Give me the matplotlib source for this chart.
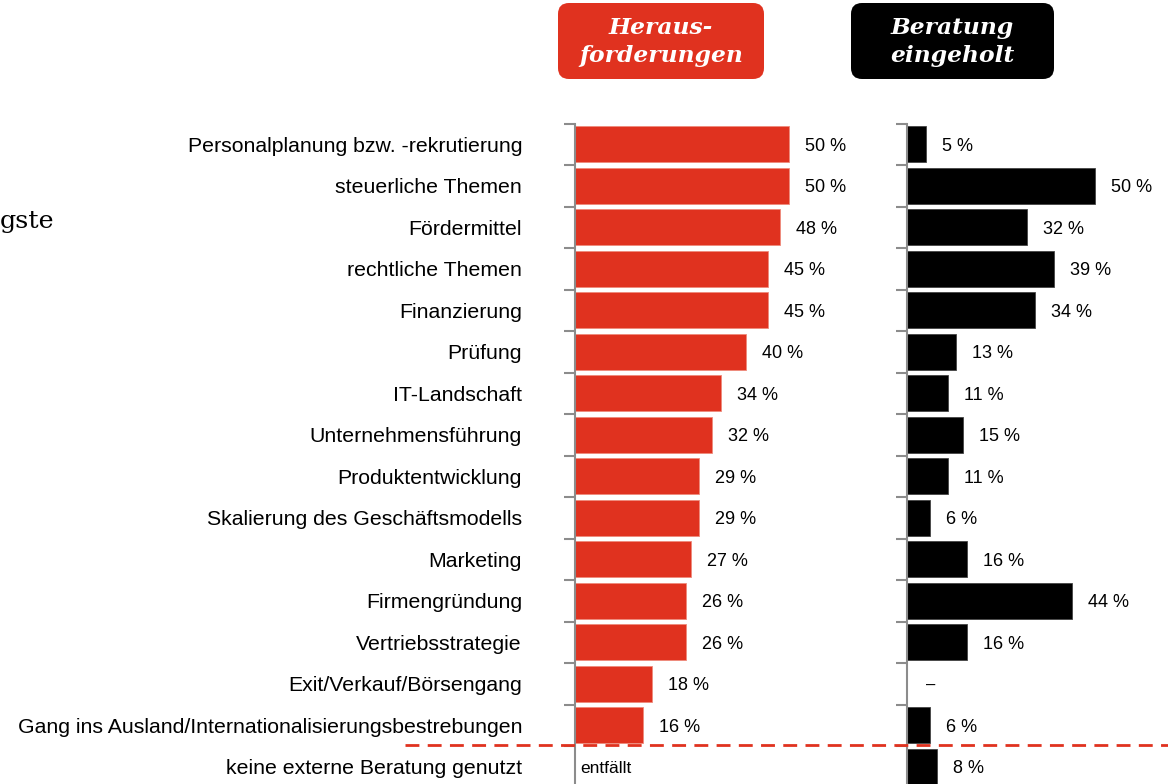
import matplotlib.pyplot as plt
from matplotlib.patches import FancyBboxPatch

# data
categories = [
    'Personalplanung bzw. -rekrutierung',
    'steuerliche Themen',
    'Fördermittel',
    'rechtliche Themen',
    'Finanzierung',
    'Prüfung',
    'IT-Landschaft',
    'Unternehmensführung',
    'Produktentwicklung',
    'Skalierung des Geschäftsmodells',
    'Marketing',
    'Firmengründung',
    'Vertriebsstrategie',
    'Exit/Verkauf/Börsengang',
    'Gang ins Ausland/Internationalisierungsbestrebungen',
    'keine externe Beratung genutzt',
]
challenges = [50, 50, 48, 45, 45, 40, 34, 32, 29, 29, 27, 26, 26, 18, 16, None]
advice = [5, 50, 32, 39, 34, 13, 11, 15, 11, 6, 16, 44, 16, None, 6, 8]
header_left = 'Heraus-\nforderungen'
header_right = 'Beratung\neingeholt'

RED = '#e0321f'
W, H = 1168, 784
fig = plt.figure(figsize=(W / 100, H / 100), dpi=100)

n = len(categories)
top = 1 - 123.5 / H
bottom = 1 - 787.5 / H
ax1 = fig.add_axes([575 / W, bottom, 300 / W, top - bottom])
ax2 = fig.add_axes([907 / W, bottom, (W - 907) / W, top - bottom])
ax1.set_xlim(0, 300 / 4.28)
ax2.set_xlim(0, (W - 907) / 3.76)

ys = list(range(n))
for ax, vals, col, edge in [(ax1, challenges, RED, '#ee8a7c'), (ax2, advice, 'black', '#444444')]:
    ax.set_ylim(n - 0.5, -0.5)
    for s in ['top', 'right', 'bottom']:
        ax.spines[s].set_visible(False)
    ax.spines['left'].set_color('#8c8c8c')
    ax.spines['left'].set_linewidth(1.5)
    ax.set_xticks([])
    ax.set_yticks([i - 0.5 for i in range(n + 1)])
    ax.set_yticklabels([])
    ax.tick_params(axis='y', length=8, width=1.5, color='#8c8c8c')
    for y, v in zip(ys, vals):
        if v is None:
            continue
        ax.barh(y, v, height=0.86, color=col, edgecolor=edge, linewidth=0.6)
        ax.text(v + 16 / (4.28 if ax is ax1 else 3.76), y, f'{v} %',
                va='center_baseline', ha='left', fontsize=13, family='Liberation Sans')

ax1.text(1.2, 15, 'entfällt', va='center_baseline', ha='left', fontsize=12.5, family='Liberation Sans')
ax2.text(5, 13, '–', va='center_baseline', ha='left', fontsize=12, family='Liberation Sans')

for y, lab in zip(ys, categories):
    ax1.annotate(lab, xy=(0, y), xycoords=('axes fraction', 'data'),
                 xytext=(-53, 0), textcoords='offset pixels',
                 ha='right', va='center_baseline', fontsize=15.35, family='Liberation Sans')

# overlay in pixel coordinates for headers and separator
ov = fig.add_axes([0, 0, 1, 1], facecolor='none')
ov.set_xlim(0, W)
ov.set_ylim(H, 0)
ov.axis('off')

for x0, x1, col, txt in [(558, 764, RED, header_left), (851, 1054, 'black', header_right)]:
    box = FancyBboxPatch((x0, 3), x1 - x0, 76, boxstyle='round,pad=0,rounding_size=11',
                         facecolor=col, edgecolor='none')
    ov.add_patch(box)
    ov.text((x0 + x1) / 2, 42, txt, ha='center', va='center', color='white',
            fontsize=16.8, fontweight='bold', fontstyle='italic',
            family='DejaVu Serif', linespacing=1.4)

ov.plot([405, W], [745, 745], color=RED, linewidth=2, dashes=(5, 3))
ov.text(0, 228, 'gste', ha='left', va='baseline', fontsize=18.3,
        family='DejaVu Serif')

fig.savefig('out.png', dpi=100)
